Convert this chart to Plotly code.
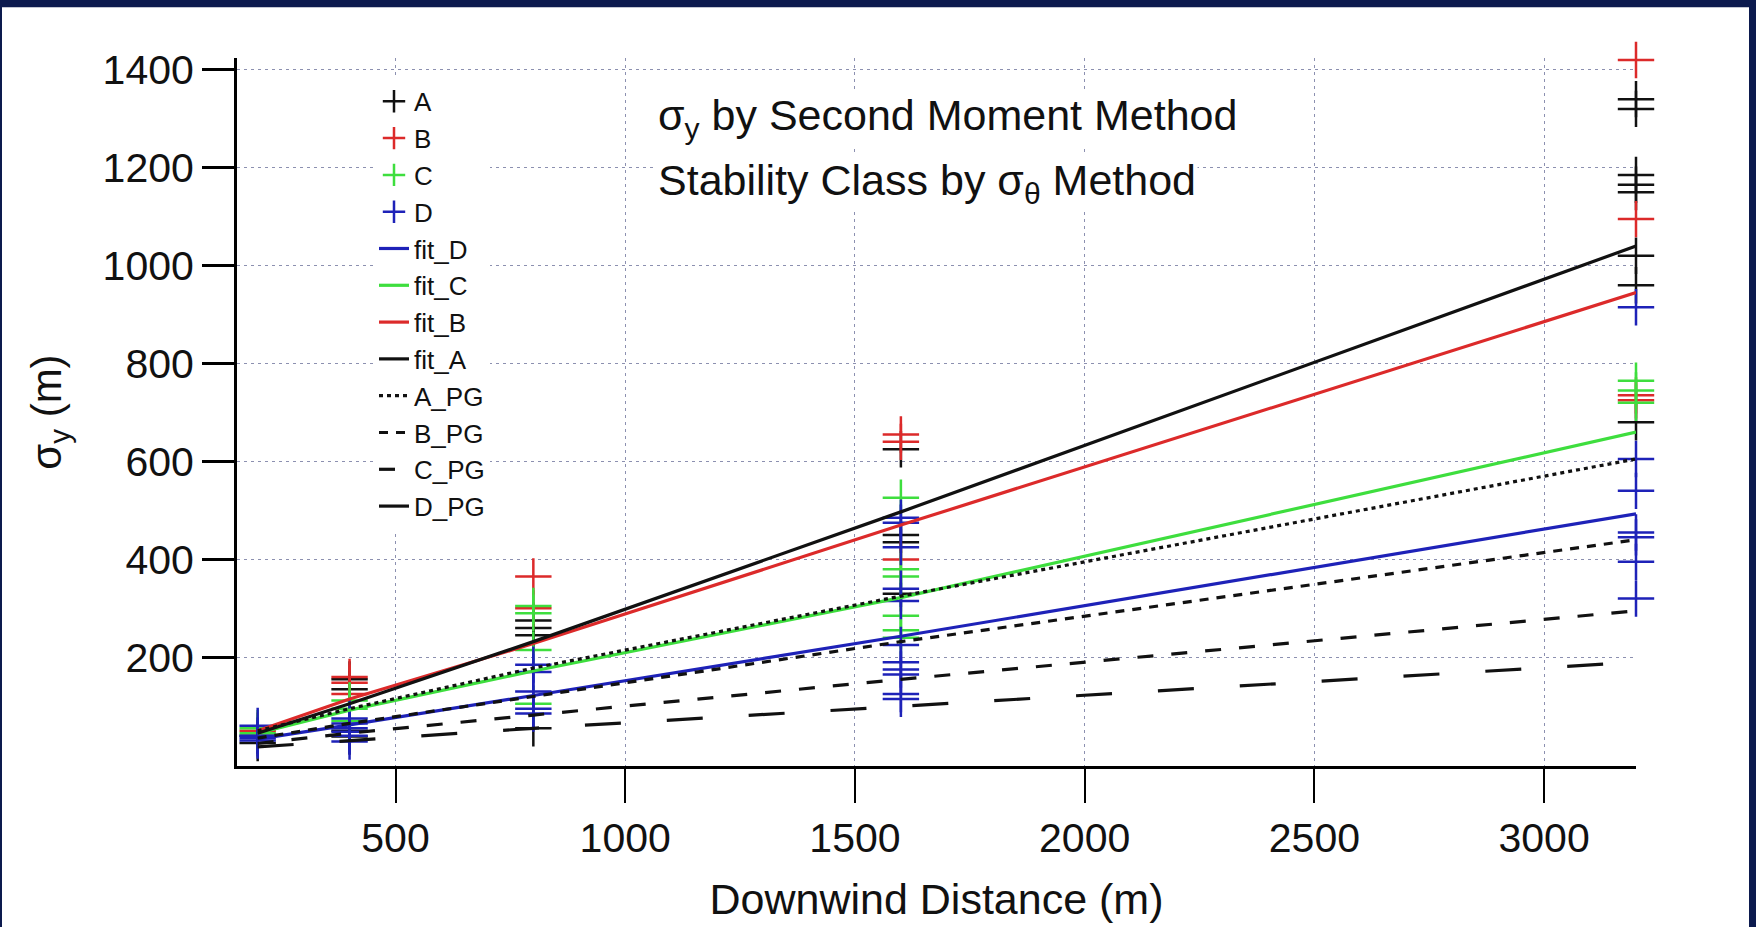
import plotly.graph_objects as go

# ---------------- data ----------------
x_cols = [200, 400, 800, 1600, 3200]

A_x = [200, 200, 400, 400, 400, 400, 800, 800, 800, 800, 1600, 1600, 1600, 1600,
       3200, 3200, 3200, 3200, 3200, 3200, 3200, 3200]
A_y = [25, 40, 155, 135, 50, 38, 275, 260, 245, 55, 625, 450, 435, 330,
       1340, 1320, 1185, 1165, 1150, 1020, 960, 680]

B_x = [200, 400, 400, 400, 800, 800, 1600, 1600, 1600, 3200, 3200, 3200, 3200]
B_y = [50, 160, 148, 125, 365, 300, 655, 640, 400, 1420, 1095, 735, 725]

C_x = [200, 200, 400, 400, 400, 800, 800, 800, 800,
       1600, 1600, 1600, 1600, 1600, 1600, 3200, 3200, 3200]
C_y = [55, 45, 112, 95, 70, 305, 290, 215, 105,
       526, 380, 365, 285, 255, 240, 765, 745, 720]

D_x = [200, 200, 200, 200, 400, 400, 400, 400, 400, 400,
       800, 800, 800, 800, 800,
       1600, 1600, 1600, 1600, 1600, 1600, 1600, 1600, 1600, 1600, 1600,
       3200, 3200, 3200, 3200, 3200, 3200, 3200]
D_y = [60, 40, 35, 30, 75, 65, 55, 48, 40, 28,
       185, 170, 130, 95, 85,
       485, 475, 425, 340, 315, 225, 190, 175, 165, 125, 115,
       915, 605, 540, 455, 445, 395, 320]

fit_A = [45, 105, 232, 497, 1040]
fit_B = [50, 115, 228, 470, 945]
fit_C = [45, 92, 172, 322, 660]
fit_D = [33, 62, 122, 243, 493]

A_PG = [50, 95, 178, 325, 605]
B_PG = [35, 65, 120, 232, 440]
C_PG = [24, 45, 82, 155, 295]
D_PG = [17, 30, 55, 100, 190]

x_ticks = [500, 1000, 1500, 2000, 2500, 3000]
y_ticks = [200, 400, 600, 800, 1000, 1200, 1400]

# ---------------- styles ----------------
BLACK = "#111111"
RED = "#dc2a2a"
GREEN = "#3ede3e"
BLUE = "#1e22b8"
FONT = "Liberation Sans, Arial, sans-serif"

fig = go.Figure()

for name, xs, ys, col in [("A", A_x, A_y, BLACK), ("B", B_x, B_y, RED),
                          ("C", C_x, C_y, GREEN), ("D", D_x, D_y, BLUE)]:
    fig.add_trace(go.Scatter(
        x=xs, y=ys, mode="markers", name=name, legendgroup=name,
        cliponaxis=False,
        marker=dict(symbol="cross-thin", size=26, color=col,
                    line=dict(color=col, width=2.5)),
    ))

for name, ys, col in [("fit_D", fit_D, BLUE), ("fit_C", fit_C, GREEN),
                      ("fit_B", fit_B, RED), ("fit_A", fit_A, BLACK)]:
    fig.add_trace(go.Scatter(
        x=x_cols, y=ys, mode="lines", name=name, legendgroup=name,
        line=dict(color=col, width=3.2),
    ))

for name, ys, dash in [("A_PG", A_PG, "4px,4px"), ("B_PG", B_PG, "9px,8px"),
                       ("C_PG", C_PG, "16px,18px"), ("D_PG", D_PG, "36px,46px")]:
    fig.add_trace(go.Scatter(
        x=x_cols, y=ys, mode="lines", name=name, legendgroup=name,
        line=dict(color=BLACK, width=3.2, dash=dash),
    ))

grid = dict(showgrid=True, gridcolor="#8c90b0", gridwidth=1.2, griddash="3px,4px")

fig.update_xaxes(
    range=[155, 3200], tickvals=x_ticks, ticks="outside", ticklen=34, tickwidth=2,
    tickcolor="black", showline=True, linecolor="black", linewidth=3,
    zeroline=False, tickfont=dict(size=41, color="#111"),
    title=dict(text="Downwind Distance (m)", font=dict(size=43, color="#111"), standoff=24),
    **grid,
)
fig.update_yaxes(
    range=[-22, 1424], tickvals=y_ticks, ticks="outside", ticklen=32, tickwidth=3,
    tickcolor="black", showline=True, linecolor="black", linewidth=3,
    zeroline=False, tickfont=dict(size=41, color="#111"),
    title=dict(text="σ<sub>y</sub> (m)", font=dict(size=42, color="#111"), standoff=28),
    **grid,
)

fig.add_annotation(
    xref="paper", yref="paper", x=(656 - 237) / 1399, y=(770 - 118) / 712,
    xanchor="left", yanchor="middle", showarrow=False, bgcolor="white",
    text="σ<sub>y</sub> by Second Moment Method",
    font=dict(size=43, color="#111", family=FONT),
)
fig.add_annotation(
    xref="paper", yref="paper", x=(656 - 237) / 1399, y=(770 - 184) / 712,
    xanchor="left", yanchor="middle", showarrow=False, bgcolor="white",
    text="Stability Class by σ<sub>θ</sub> Method",
    font=dict(size=43, color="#111", family=FONT),
)

# white panel inside the dark frame
fig.add_shape(
    type="rect", xref="paper", yref="paper", layer="below",
    x0=(2 - 237) / 1399, x1=(1749 - 237) / 1399,
    y0=-0.3, y1=(770 - 7) / 712,
    fillcolor="white", line=dict(width=0),
)

fig.update_layout(
    width=1756, height=927,
    margin=dict(l=237, r=120, t=58, b=157, pad=0),
    paper_bgcolor="#0c1a4e", plot_bgcolor="rgba(255,255,255,0)",
    font=dict(family=FONT, color="#111"),
    showlegend=True,
    legend=dict(
        x=(374 - 237) / 1399, y=(770 - 78) / 712, xanchor="left", yanchor="top",
        bgcolor="white", borderwidth=0, font=dict(size=26, color="#111"),
        traceorder="normal", itemsizing="trace", tracegroupgap=0,
    ),
)

fig.write_html("out.html")
